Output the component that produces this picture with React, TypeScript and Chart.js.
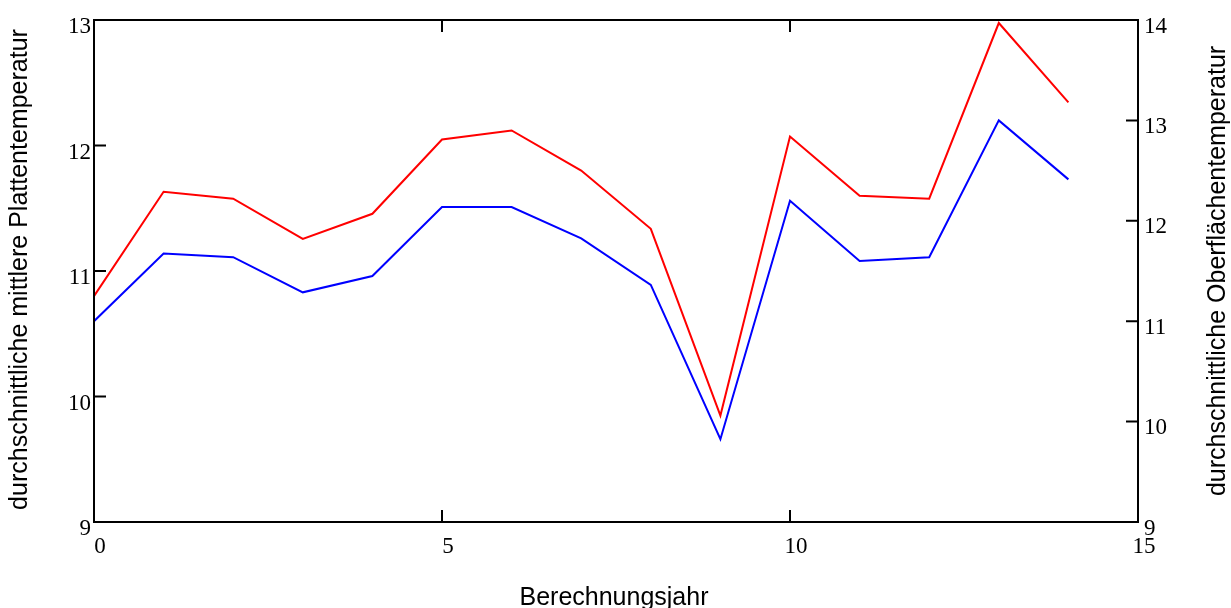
import React, { useEffect, useRef } from "react";
import { Chart, registerables } from "chart.js";

Chart.register(...registerables);

const years = [0, 1, 2, 3, 4, 5, 6, 7, 8, 9, 10, 11, 12, 13, 14];
const plateTemp = [10.6, 11.14, 11.11, 10.83, 10.96, 11.51, 11.51, 11.26, 10.89, 9.66, 11.56, 11.08, 11.11, 12.2, 11.73];
const surfaceTemp = [11.25, 12.29, 12.22, 11.82, 12.07, 12.81, 12.9, 12.5, 11.92, 10.06, 12.84, 12.25, 12.22, 13.97, 13.18];
const xTicks = [0, 5, 10, 15];
const leftTicks = [9, 10, 11, 12, 13];
const rightTicks = [9, 10, 11, 12, 13, 14];
const xTitle = "Berechnungsjahr";
const leftTitle = "durchschnittliche mittlere Plattentemperatur";
const rightTitle = "durchschnittliche Oberflächentemperatur";

const TICK_FONT = "23px 'Liberation Serif', 'Times New Roman', serif";
const TITLE_FONT = "25px 'Liberation Sans', Arial, sans-serif";
const TICK_LEN = 12;

const framePlugin = {
  id: "mathcadFrame",
  afterDatasetsDraw(chart: any) {
    const { ctx, chartArea } = chart;
    const { left, right, top, bottom } = chartArea;
    const xs = chart.scales.x;
    const yl = chart.scales.y;
    const yr = chart.scales.y1;
    ctx.save();
    ctx.strokeStyle = "#000";
    ctx.lineWidth = 2;
    ctx.strokeRect(left, top, right - left, bottom - top);

    ctx.beginPath();
    xTicks.forEach((v) => {
      const px = xs.getPixelForValue(v);
      ctx.moveTo(px, bottom);
      ctx.lineTo(px, bottom - TICK_LEN);
      ctx.moveTo(px, top);
      ctx.lineTo(px, top + TICK_LEN);
    });
    leftTicks.forEach((v) => {
      const py = yl.getPixelForValue(v);
      ctx.moveTo(left, py);
      ctx.lineTo(left + TICK_LEN, py);
    });
    rightTicks.forEach((v) => {
      const py = yr.getPixelForValue(v);
      ctx.moveTo(right, py);
      ctx.lineTo(right - TICK_LEN, py);
    });
    ctx.stroke();

    ctx.fillStyle = "#000";
    ctx.font = TICK_FONT;
    ctx.textBaseline = "alphabetic";
    ctx.textAlign = "center";
    xTicks.forEach((v) => {
      ctx.fillText(String(v), xs.getPixelForValue(v) + 6, bottom + 31);
    });
    ctx.textAlign = "right";
    leftTicks.forEach((v) => {
      ctx.fillText(String(v), left - 3, yl.getPixelForValue(v) + 13);
    });
    ctx.textAlign = "left";
    rightTicks.forEach((v) => {
      ctx.fillText(String(v), right + 6, yr.getPixelForValue(v) + 12.5);
    });

    ctx.font = TITLE_FONT;
    ctx.textAlign = "center";
    ctx.fillText(xTitle, (left + right) / 2 - 2, 605);

    ctx.save();
    ctx.translate(27, 269.5);
    ctx.rotate(-Math.PI / 2);
    ctx.fillText(leftTitle, 0, 0);
    ctx.restore();

    ctx.save();
    ctx.translate(1225, 271);
    ctx.rotate(-Math.PI / 2);
    ctx.fillText(rightTitle, 0, 0);
    ctx.restore();

    ctx.restore();
  },
};

export default function App() {
  const canvasRef = useRef<HTMLCanvasElement | null>(null);

  useEffect(() => {
    if (!canvasRef.current) return;
    const chart = new Chart(canvasRef.current, {
      type: "line",
      data: {
        datasets: [
          {
            label: "Oberflächentemperatur",
            data: years.map((x, i) => ({ x, y: surfaceTemp[i] })),
            borderColor: "#ff0000",
            borderWidth: 2,
            pointRadius: 0,
            tension: 0,
            yAxisID: "y1",
          },
          {
            label: "Plattentemperatur",
            data: years.map((x, i) => ({ x, y: plateTemp[i] })),
            borderColor: "#0000ff",
            borderWidth: 2,
            pointRadius: 0,
            tension: 0,
            yAxisID: "y",
          },
        ],
      },
      options: {
        responsive: false,
        animation: false,
        devicePixelRatio: 1,
        layout: { padding: { left: 94, right: 93, top: 20, bottom: 86 } },
        plugins: { legend: { display: false }, tooltip: { enabled: false } },
        scales: {
          x: { type: "linear", min: 0, max: 15, display: false },
          y: { type: "linear", position: "left", min: 9, max: 13, display: false },
          y1: { type: "linear", position: "right", min: 9, max: 14, display: false },
        },
      },
      plugins: [framePlugin],
    });
    return () => chart.destroy();
  }, []);

  return (
    <div style={{ position: "absolute", left: 0, top: 0, width: 1231, height: 608, background: "#fff" }}>
      <canvas ref={canvasRef} width={1231} height={608} />
    </div>
  );
}
